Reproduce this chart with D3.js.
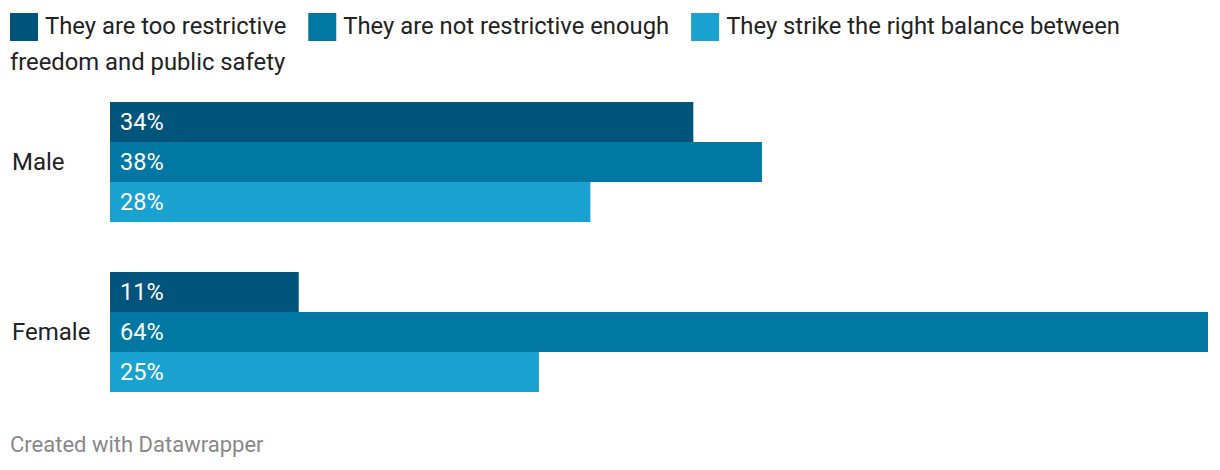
<!DOCTYPE html>
<html><head><meta charset="utf-8">
<script src="https://cdn.jsdelivr.net/npm/d3@7"></script>
<style>
body{margin:0;background:#fff;font-family:Roboto,"Noto Sans",sans-serif;}
svg{position:absolute;left:0;top:0;font-family:Roboto,"Noto Sans",sans-serif;}
</style></head>
<body>
<svg id="chart" width="1220" height="470"></svg>
<script>
const categories = ["Male", "Female"];
const seriesNames = ["They are too restrictive", "They are not restrictive enough", "They strike the right balance between freedom and public safety"];
const tooRestrictive = [34, 11];
const notEnough = [38, 64];
const rightBalance = [28, 25];
const colors = ["#01547b", "#0177a3", "#19a2cf"];

const series = [tooRestrictive, notEnough, rightBalance];
const svg = d3.select("#chart");

// legend with word flow
const lg = svg.append("g");
const fs = 23.8, lineH = 36, left = 10, maxX = 1205, baseY = 34;
let cx = left, line = 0;
const measure = lg.append("text").attr("font-size", fs).attr("visibility", "hidden");
const w = s => { measure.text(s); return measure.node().getComputedTextLength(); };
const spaceW = w("a b") - w("ab");
seriesNames.forEach((n, i) => {
  if (cx + 35 + w(n.split(" ")[0]) > maxX) { cx = left; line++; }
  lg.append("rect").attr("x", cx).attr("y", baseY + line * lineH - 21)
    .attr("width", 28).attr("height", 28).attr("fill", colors[i]);
  cx += 35;
  let t = lg.append("text").attr("font-size", fs).attr("fill", "#222")
    .attr("x", cx).attr("y", baseY + line * lineH);
  let cur = "";
  n.split(" ").forEach(word => {
    const cand = cur ? cur + " " + word : word;
    if (cx + w(cand) > maxX && cur) {
      t.text(cur);
      line++; cx = left; cur = word;
      t = lg.append("text").attr("font-size", fs).attr("fill", "#222")
        .attr("x", cx).attr("y", baseY + line * lineH);
    } else cur = cand;
  });
  t.text(cur);
  cx += w(cur) + 22;
});
measure.remove();

const x = d3.scaleLinear().domain([0, 64]).range([110, 1208]);
const yGroup = d3.scalePoint().domain(categories).range([102, 272]);
const inner = d3.scaleBand().domain([0, 1, 2]).range([0, 120]);

categories.forEach((c, ci) => {
  const grp = svg.append("g").attr("transform", `translate(0,${yGroup(c)})`);
  series.forEach((vals, si) => {
    grp.append("rect")
      .attr("x", x(0)).attr("y", inner(si))
      .attr("width", x(vals[ci]) - x(0)).attr("height", inner.bandwidth())
      .attr("fill", colors[si]);
    grp.append("text")
      .attr("x", x(0) + 10).attr("y", inner(si) + inner.bandwidth() / 2)
      .attr("dy", "0.35em").attr("fill", "#fff")
      .attr("font-size", 23.5).text(vals[ci] + "%");
  });
  grp.append("text").attr("x", 12).attr("y", 60).attr("dy", "0.35em")
    .attr("font-size", 24).attr("fill", "#222").text(c);
});

svg.append("text").attr("x", 10).attr("y", 452).attr("font-size", 22)
  .attr("fill", "#888").text("Created with Datawrapper");
</script>
</body></html>
